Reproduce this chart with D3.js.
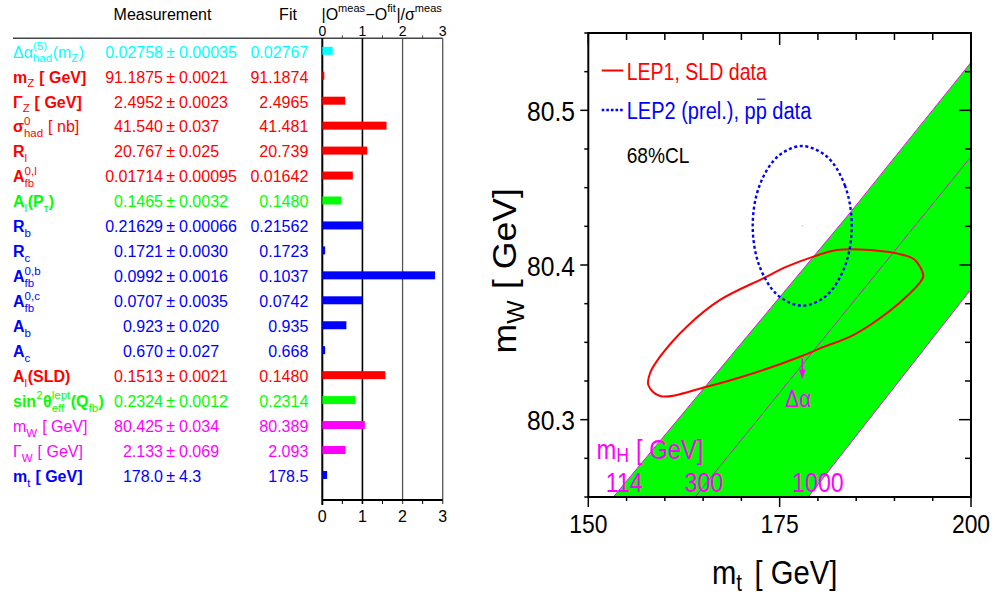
<!DOCTYPE html>
<html><head><meta charset="utf-8">
<script src="https://cdn.jsdelivr.net/npm/d3@7"></script>
<style>
body{margin:0;background:#fff}
svg{display:block}
text{font-family:"Liberation Sans",Arial,Helvetica,sans-serif;white-space:pre}
</style>
</head><body><svg id="c" width="995" height="597"></svg>
<script>
// ---------------- DATA ----------------
const labelSegs = [
  [{t:"Δα"},{sup:"(5)",sub:"had"},{t:"(m"},{sub:"Z"},{t:")"}],
  [{t:"m"},{sub:"Z"},{t:" [ GeV]"}],
  [{t:"Γ"},{sub:"Z"},{t:" [ GeV]"}],
  [{t:"σ"},{sup:"0",sub:"had"},{t:" [ nb]",w:"normal"}],
  [{t:"R"},{sub:"l"}],
  [{t:"A"},{sup:"0,l",sub:"fb"}],
  [{t:"A"},{sub:"l"},{t:"(P"},{sub:"τ"},{t:")"}],
  [{t:"R"},{sub:"b"}],
  [{t:"R"},{sub:"c"}],
  [{t:"A"},{sup:"0,b",sub:"fb"}],
  [{t:"A"},{sup:"0,c",sub:"fb"}],
  [{t:"A"},{sub:"b"}],
  [{t:"A"},{sub:"c"}],
  [{t:"A"},{sub:"l"},{t:"(SLD)"}],
  [{t:"sin"},{sup:"2"},{t:"θ"},{sup:"lept",sub:"eff"},{t:"(Q"},{sub:"fb"},{t:")"}],
  [{t:"m"},{sub:"W"},{t:" [ GeV]"}],
  [{t:"Γ"},{sub:"W"},{t:" [ GeV]"}],
  [{t:"m"},{sub:"t"},{t:" [ GeV]"}]
];
const measVal = ["0.02758","91.1875","2.4952","41.540","20.767","0.01714","0.1465","0.21629","0.1721","0.0992","0.0707","0.923","0.670","0.1513","0.2324","80.425","2.133","178.0"];
const measErr = ["0.00035","0.0021","0.0023","0.037","0.025","0.00095","0.0032","0.00066","0.0030","0.0016","0.0035","0.020","0.027","0.0021","0.0012","0.034","0.069","4.3"];
const fitVal  = ["0.02767","91.1874","2.4965","41.481","20.739","0.01642","0.1480","0.21562","0.1723","0.1037","0.0742","0.935","0.668","0.1480","0.2314","80.389","2.093","178.5"];
const pulls   = [0.26,0.05,0.57,1.60,1.12,0.76,0.47,1.01,0.07,2.81,1.00,0.60,0.07,1.57,0.83,1.06,0.58,0.12];
const rowGroup = ["cyan","red","red","red","red","red","green","blue","blue","blue","blue","blue","blue","red","green","magenta","magenta","blue"];
const boldRow  = [false,true,true,true,true,true,true,true,true,true,true,true,true,true,true,false,false,true];
const pullTicks = [0,1,2,3];
const pullMinor = [0.5,1.5,2.5];

const mtTicks = [150,175,200];
const mwTicks = [80.3,80.4,80.5];
const lep1Mt = [157.84,159.37,165.47,171.56,177.66,180.27,184.62,188.99,192.03,193.56,193.77,192.68,191.15,186.8,182.45,179.4,175.92,172.86,167.21,162.86,159.37,158.06];
const lep1Mw = [80.3224,80.3153,80.3213,80.33,80.3407,80.3461,80.3547,80.3688,80.3817,80.3903,80.3935,80.4032,80.4065,80.4097,80.4097,80.4054,80.3989,80.3914,80.3774,80.3601,80.3407,80.33];
const lep2Mt = [184.42,183.55,181.19,177.90,174.72,172.35,171.48,172.35,174.72,178.00,181.19,183.55];
const lep2Mw = [80.4253,80.4511,80.4700,80.4769,80.4700,80.4511,80.4253,80.3995,80.3806,80.3737,80.3806,80.3995];
const mh114Mt = [153.27,184.32,200], mh114Mw = [80.25,80.4345,80.531];
const mh300Mt = [163.94,200],        mh300Mw = [80.25,80.47];
const mh1000Mt = [178.74,200],       mh1000Mw = [80.25,80.3843];
const mhLabels = ["114","300","1000"];
const mhLabelMt = [154.7,165.1,180.0];

// ---------------- STYLE ----------------
const COL = {cyan:"#00ffff",red:"#ff0000",green:"#00ff00",blue:"#0000ff",magenta:"#ff00ff"};
const svg = d3.select("#c");
svg.append("rect").attr("width",995).attr("height",597).attr("fill","#fff");

function rich(parent, segs, o){
  const size=o.size||16, ss=o.subSize||Math.round(size*0.7);
  const g=parent.append("g").attr("transform",o.transform||null);
  const inner=g.append("g");
  let cx=0;
  const mk=(txt,x,y,sz,wt)=>inner.append("text").attr("x",x).attr("y",y)
      .attr("font-size",sz).attr("font-weight",wt||"normal").attr("fill",o.fill).text(txt);
  segs.forEach(s=>{
    if(s.gap){cx+=s.gap;return;}
    if(s.t!==undefined){
      const n=mk(s.t,cx,0,size,s.w||o.weight||"normal");
      const w=n.node().getComputedTextLength();
      if(s.over){inner.append("line").attr("x1",cx+w*0.12).attr("x2",cx+w*0.88)
        .attr("y1",-size*0.86).attr("y2",-size*0.86).attr("stroke",o.fill).attr("stroke-width",1.2);}
      cx+=w; return;
    }
    let w=0;
    if(s.sup!==undefined){const n=mk(s.sup,cx,-size*(o.supR||0.44),ss,"normal");w=Math.max(w,n.node().getComputedTextLength());}
    if(s.sub!==undefined){const n=mk(s.sub,cx,size*(o.subR||0.3),ss,"normal");w=Math.max(w,n.node().getComputedTextLength());}
    cx+=w+0.5;
  });
  const k=o.anchor==="middle"?0.5:o.anchor==="end"?1:0;
  inner.attr("transform",`translate(${-cx*k},0)`);
  return g;
}

// ---------------- LEFT PANEL ----------------
const L = svg.append("g");
const px = d3.scaleLinear().domain([0,3]).range([322.3,442.7]);
const ry = d3.scalePoint().domain(d3.range(labelSegs.length)).range([50.8,474.95]);
const TOP=38.3, BOT=500;

L.append("text").attr("x",162.5).attr("y",20).attr("font-size",16).attr("text-anchor","middle").attr("fill","#000").text("Measurement");
L.append("text").attr("x",288).attr("y",20).attr("font-size",16).attr("text-anchor","middle").attr("fill","#000").text("Fit");
rich(L,[{t:"|O"},{sup:"meas"},{t:"−O"},{sup:"fit"},{t:"|/σ"},{sup:"meas"}],
  {size:16,subSize:11,supR:0.5,fill:"#000",transform:"translate(321.5,20)"});
L.append("line").attr("x1",13).attr("x2",px(3)).attr("y1",TOP).attr("y2",TOP).attr("stroke","#444").attr("stroke-width",1.5);

pullTicks.forEach(v=>{
  L.append("line").attr("x1",px(v)).attr("x2",px(v)).attr("y1",TOP).attr("y2",BOT+(v===0?5:4))
   .attr("stroke",v<2?"#000":"#555").attr("stroke-width",v===0?2:(v===1?1.6:1.3));
});
L.append("line").attr("x1",px(0)).attr("x2",px(3)).attr("y1",BOT).attr("y2",BOT).attr("stroke","#000").attr("stroke-width",2);
pullMinor.forEach(v=>{
  L.append("line").attr("x1",px(v)).attr("x2",px(v)).attr("y1",TOP-3).attr("y2",TOP).attr("stroke","#444").attr("stroke-width",1);
  L.append("line").attr("x1",px(v)).attr("x2",px(v)).attr("y1",BOT).attr("y2",BOT+4).attr("stroke","#000").attr("stroke-width",1);
});
pullTicks.forEach(v=>{
  L.append("text").attr("x",px(v)).attr("y",36).attr("font-size",14).attr("text-anchor","middle").attr("fill","#000").text(v);
  L.append("text").attr("x",px(v)).attr("y",521.7).attr("font-size",16).attr("text-anchor","middle").attr("fill","#000").text(v);
});

labelSegs.forEach((segs,i)=>{
  const c=COL[rowGroup[i]], y=ry(i)+6.8;
  rich(L,segs,{size:16,subSize:11.5,supR:0.47,subR:0.3,fill:c,weight:boldRow[i]?"bold":"normal",transform:`translate(13,${y})`});
  L.append("text").attr("x",163).attr("y",y).attr("font-size",16).attr("text-anchor","end").attr("fill",c).text(measVal[i]);
  L.append("text").attr("x",170.7).attr("y",y).attr("font-size",16).attr("text-anchor","middle").attr("fill",c).text("±");
  L.append("text").attr("x",179).attr("y",y).attr("font-size",16).attr("text-anchor","start").attr("fill",c).text(measErr[i]);
  L.append("text").attr("x",308.3).attr("y",y).attr("font-size",16).attr("text-anchor","end").attr("fill",c).text(fitVal[i]);
  L.append("rect").attr("x",px(0)).attr("y",ry(i)-4).attr("width",px(pulls[i])-px(0)).attr("height",8).attr("fill",c);
});

// ---------------- RIGHT PANEL ----------------
const R = svg.append("g");
const xS = d3.scaleLinear().domain([150,200]).range([588.3,971]);
const yS = d3.scaleLinear().domain([80.25,80.55]).range([497,33]);
const [x0,x1]=xS.range(), [y0,y1]=yS.range();
svg.append("defs").append("clipPath").attr("id","clp").append("rect")
  .attr("x",x0).attr("y",y1).attr("width",x1-x0).attr("height",y0-y1);
const P = R.append("g").attr("clip-path","url(#clp)");
const pts=(a,b)=>a.map((v,i)=>[xS(v),yS(b[i])]);

const band = pts(mh114Mt,mh114Mw).concat(pts(mh1000Mt,mh1000Mw).reverse());
P.append("path").attr("d",d3.line()(band)+"Z").attr("fill","#00ff00");
P.append("path").attr("d",d3.line()(pts(mh114Mt,mh114Mw))).attr("fill","none").attr("stroke","#ff00ff").attr("stroke-width",1);
P.append("path").attr("d",d3.line()(pts(mh1000Mt,mh1000Mw))).attr("fill","none").attr("stroke","#ff00ff").attr("stroke-width",1);
P.append("path").attr("d",d3.line()(pts(mh300Mt,mh300Mw))).attr("fill","none").attr("stroke","#cc22cc").attr("stroke-width",1);

const closed = d3.line().curve(d3.curveCatmullRomClosed.alpha(0.5));
P.append("path").attr("d",closed(pts(lep1Mt,lep1Mw))).attr("fill","none").attr("stroke","#ff0000").attr("stroke-width",2);
P.append("path").attr("d",closed(pts(lep2Mt,lep2Mw))).attr("fill","none").attr("stroke","#0000ff").attr("stroke-width",2.4).attr("stroke-dasharray","3,2.6");
P.append("circle").attr("cx",xS(d3.mean(lep2Mt))).attr("cy",yS(d3.mean(lep2Mw))).attr("r",0.6).attr("fill","#8888ff");

const ax = xS(177.96);
R.append("line").attr("x1",ax).attr("x2",ax).attr("y1",yS(80.3397)).attr("y2",yS(80.328)).attr("stroke","#ff00ff").attr("stroke-width",1.5);
R.append("path").attr("d",`M${ax-3.3},${yS(80.3325)}L${ax+3.3},${yS(80.3325)}L${ax},${yS(80.3262)}Z`).attr("fill","#ff00ff");
R.append("text").attr("transform",`translate(${ax-17},406.5) scale(0.9,1)`).attr("font-size",23).attr("fill","#ff00ff").text("Δα");

rich(R,[{t:"m"},{sub:"H"},{t:" [ GeV]"}],{size:27,subSize:20,subR:0.12,fill:"#ff00ff",transform:"translate(596.5,459) scale(0.88,1)"});
mhLabels.forEach((t,i)=>{
  R.append("text").attr("transform",`translate(${xS(mhLabelMt[i])},491.7) scale(0.86,1)`).attr("font-size",27)
    .attr("text-anchor","middle").attr("fill","#ff00ff").text(t);
});

R.append("rect").attr("x",x0).attr("y",y1).attr("width",x1-x0).attr("height",y0-y1).attr("fill","none").attr("stroke","#000").attr("stroke-width",2);
d3.range(150,200.01,5).forEach(v=>{
  const major = mtTicks.includes(v), x=xS(v);
  R.append("line").attr("x1",x).attr("x2",x).attr("y1",y0).attr("y2",y0+(major?10:4)).attr("stroke","#000").attr("stroke-width",1.5);
  R.append("line").attr("x1",x).attr("x2",x).attr("y1",y1).attr("y2",y1+(major?12:7)).attr("stroke","#000").attr("stroke-width",1.5);
});
d3.range(0,13).map(k=>+(80.25+k*0.025).toFixed(3)).forEach(v=>{
  const major = mwTicks.some(t=>Math.abs(t-v)<1e-6), y=yS(v);
  R.append("line").attr("x1",x0).attr("x2",x0-(major?8:4)).attr("y1",y).attr("y2",y).attr("stroke","#000").attr("stroke-width",1.5);
  R.append("line").attr("x1",x1).attr("x2",x1-(major?12:6)).attr("y1",y).attr("y2",y).attr("stroke","#000").attr("stroke-width",1.5);
});
mtTicks.forEach(v=>{
  R.append("text").attr("transform",`translate(${xS(v)},533.3) scale(0.88,1)`).attr("font-size",26).attr("text-anchor","middle").attr("fill","#000").text(v);
});
mwTicks.forEach(v=>{
  R.append("text").attr("transform",`translate(575,${yS(v)+10.5}) scale(0.88,1)`).attr("font-size",28).attr("text-anchor","end").attr("fill","#000").text(v.toFixed(1));
});
rich(R,[{t:"m"},{sub:"t"},{gap:14},{t:"[ GeV]"}],{size:34,subSize:24,subR:0.2,fill:"#000",transform:"translate(712,584) scale(0.86,1)"});
rich(R,[{t:"m"},{sub:"W"},{gap:10},{t:"[ GeV]"}],{size:33,subSize:23,subR:0.26,fill:"#000",transform:"translate(515.5,353.5) rotate(-90) scale(1.08,1)"});

R.append("line").attr("x1",601.7).attr("x2",623.3).attr("y1",70.5).attr("y2",70.5).attr("stroke","#ff0000").attr("stroke-width",2);
R.append("text").attr("transform","translate(626.7,80) scale(0.85,1)").attr("font-size",23).attr("fill","#ff0000").text("LEP1, SLD data");
R.append("line").attr("x1",601.7).attr("x2",623.3).attr("y1",110).attr("y2",110).attr("stroke","#0000ff").attr("stroke-width",2.4).attr("stroke-dasharray","2.6,2");
rich(R,[{t:"LEP2 (prel.), p"},{t:"p",over:true},{t:" data"}],{size:23,fill:"#0000ff",transform:"translate(626.7,119) scale(0.87,1)"});
R.append("text").attr("transform","translate(626.7,162.5) scale(0.87,1)").attr("font-size",22).attr("fill","#000").text("68%CL");
</script>
</body></html>
